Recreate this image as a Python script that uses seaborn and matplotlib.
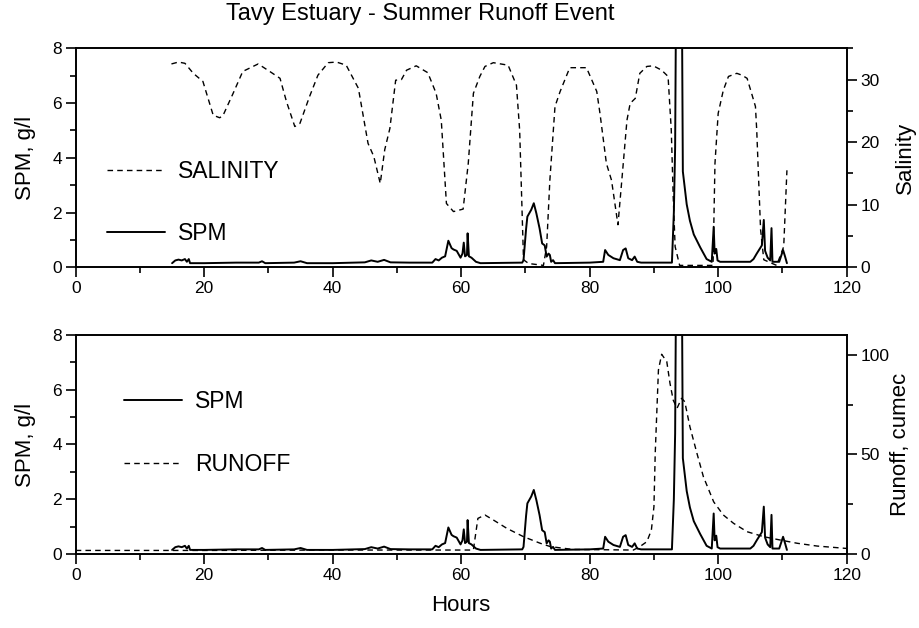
import matplotlib
matplotlib.use("Agg")
import matplotlib.pyplot as plt
from matplotlib.lines import Line2D
from matplotlib.ticker import MultipleLocator
import seaborn as sns
import numpy as np

# ---------------- data ----------------
spm_hours = [15.0, 15.5, 16.0, 16.5, 17.0, 17.3, 17.6, 17.8, 20.0, 25.0, 28.5, 29.0, 29.5,
             34.0, 35.0, 36.0, 40.0, 45.0, 46.0, 47.0, 48.0, 49.0, 52.0, 55.5, 56.0, 56.5,
             57.0, 57.5, 58.0, 58.5, 58.8, 59.3, 59.9, 60.2, 60.4, 60.6, 60.9, 61.0, 61.2,
             61.6, 62.3, 63.0, 69.5, 69.7, 70.1, 70.3, 70.9, 71.3, 71.7, 72.2, 72.6, 73.0,
             73.3, 73.6, 73.8, 74.0, 74.3, 74.6, 80.0, 82.1, 82.4, 82.9, 83.7, 84.7, 85.2,
             85.6, 86.0, 86.6, 87.0, 87.4, 88.0, 92.8, 93.1, 93.3, 93.5, 94.3, 94.5, 95.1,
             95.6, 96.2, 97.2, 98.2, 99.0, 99.3, 99.45, 99.7, 99.9, 100.3, 105.0, 105.5,
             106.0, 106.8, 107.1, 107.3, 107.7, 108.1, 108.3, 108.45, 109.5, 110.1, 110.4,
             110.7]
spm_values = [0.15, 0.25, 0.28, 0.25, 0.30, 0.20, 0.30, 0.15, 0.15, 0.17, 0.17, 0.22, 0.15,
              0.17, 0.22, 0.15, 0.15, 0.18, 0.25, 0.20, 0.27, 0.18, 0.17, 0.17, 0.30, 0.25,
              0.35, 0.40, 0.97, 0.70, 0.65, 0.60, 0.35, 0.50, 0.90, 0.40, 0.45, 1.24, 0.40,
              0.35, 0.20, 0.15, 0.17, 0.26, 1.40, 1.85, 2.10, 2.34, 1.97, 1.42, 0.87, 0.80,
              0.39, 0.50, 0.45, 0.20, 0.26, 0.15, 0.17, 0.20, 0.63, 0.45, 0.33, 0.26, 0.63,
              0.69, 0.33, 0.26, 0.39, 0.20, 0.17, 0.17, 2.00, 4.40, 12.0, 12.0, 3.50, 2.30,
              1.70, 1.20, 0.73, 0.30, 0.20, 1.48, 0.50, 0.67, 0.25, 0.20, 0.20, 0.30,
              0.50, 0.80, 1.73, 0.60, 0.35, 0.25, 1.43, 0.20, 0.20, 0.63, 0.40,
              0.15]

sal_hours = [14.9, 16.0, 17.0, 18.3, 19.8, 21.4, 22.4, 22.9, 24.5, 26.0, 28.4, 30.2, 31.8,
             32.8, 34.1, 34.9, 36.4, 37.7, 39.3, 40.6, 42.1, 44.0, 45.5, 46.4, 47.4, 48.1,
             48.9, 49.8, 50.7, 51.5, 53.0, 54.8, 56.1, 56.9, 57.7, 58.8, 60.3, 61.1, 61.9,
             62.9, 63.7, 65.0, 67.3, 68.6, 69.1, 69.7, 70.5, 72.8, 73.3, 73.8, 74.6, 75.4,
             76.9, 79.5, 81.1, 81.6, 82.6, 83.4, 84.4, 85.0, 85.8, 86.3, 87.1, 87.8, 88.9,
             89.9, 91.2, 92.2, 92.7, 93.0, 93.3, 94.0, 99.2, 99.5, 100.0, 100.8, 101.6,
             102.9, 103.7, 104.5, 105.2, 105.8, 106.0, 106.3, 106.6, 107.1, 109.1, 110.2,
             110.7]
sal_values = [32.5, 32.8, 32.6, 31.0, 29.7, 24.3, 23.9, 24.2, 27.8, 31.3, 32.5, 31.3, 30.2,
              26.5, 22.5, 23.0, 27.3, 30.7, 32.7, 32.8, 32.3, 28.6, 19.8, 17.7, 13.4, 18.8,
              22.2, 29.9, 30.0, 31.5, 32.2, 31.1, 27.8, 23.5, 10.2, 8.9, 9.3, 16.6, 27.8,
              30.5, 32.1, 32.7, 32.3, 29.1, 21.9, 1.2, 0.6, 0.3, 3.3, 13.9, 25.7, 28.1,
              31.9, 31.9, 28.1, 24.6, 16.6, 13.9, 6.8, 13.9, 23.5, 26.2, 27.0, 31.0, 32.1,
              32.2, 31.5, 30.5, 21.9, 11.3, 3.3, 0.3, 0.3, 16.6, 24.6, 28.3, 30.5,
              31.0, 30.7, 30.2, 27.8, 25.7, 21.9, 13.9, 6.0, 1.2, 0.3, 3.3,
              15.5]

run_hours = [0.0, 20.0, 40.0, 61.9, 62.1, 62.6, 63.7, 65.0, 67.1, 69.7, 72.3, 73.9, 77.4,
             86.8, 87.8, 88.9, 89.6, 90.0, 90.2, 90.5, 90.7, 91.2, 92.0, 92.5, 93.0, 93.6,
             94.3, 94.8, 95.6, 96.7, 97.7, 99.3, 100.8, 102.4, 104.5, 107.1, 109.7, 112.3,
             115.4, 120.0]
run_values = [1.8, 1.8, 2.0, 2.0, 6.7, 17.9, 19.6, 17.1, 12.9, 8.7, 5.4, 3.7, 2.3,
              2.0, 3.7, 6.2, 12.0, 23.8, 50.5, 75.6, 92.4, 100.3, 96.6, 85.7, 77.3, 73.2,
              78.2, 76.5, 63.9, 50.5, 38.8, 26.2, 19.6, 15.4, 11.2, 8.7, 7.0, 5.4,
              4.0, 2.8]

title = "Tavy Estuary - Summer Runoff Event"

# ---------------- style ----------------
sns.set_style("ticks")
plt.rcParams['font.family'] = ['Liberation Sans', 'DejaVu Sans']
plt.rcParams['axes.linewidth'] = 1.2
plt.rcParams['axes.edgecolor'] = 'black'
plt.rcParams['xtick.color'] = 'black'
plt.rcParams['ytick.color'] = 'black'
plt.rcParams['text.color'] = 'black'
plt.rcParams['axes.labelcolor'] = 'black'
plt.rcParams['xtick.direction'] = 'out'
plt.rcParams['ytick.direction'] = 'out'

TICK_FS = 12.5
LABEL_FS = 16
LEG_FS = 16.5
TITLE_FS = 17
DASH = (0, (4, 3))

fig = plt.figure(figsize=(9.2, 6.28), dpi=100)
ax1 = fig.add_axes([0.0823, 0.5744, 0.8380, 0.3487])
ax2 = fig.add_axes([0.0823, 0.1178, 0.8380, 0.3488])
ax1b = ax1.twinx()
ax2b = ax2.twinx()

# top panel
sns.lineplot(x=spm_hours, y=spm_values, ax=ax1, color='black', linewidth=1.4,
             estimator=None, sort=False)
sns.lineplot(x=sal_hours, y=sal_values, ax=ax1b, color='black', linewidth=1.0,
             linestyle=DASH, estimator=None, sort=False)
# bottom panel
sns.lineplot(x=spm_hours, y=spm_values, ax=ax2, color='black', linewidth=1.4,
             estimator=None, sort=False)
sns.lineplot(x=run_hours, y=run_values, ax=ax2b, color='black', linewidth=1.0,
             linestyle=DASH, estimator=None, sort=False)

for ax in (ax1, ax2):
    ax.set_xlim(0, 120)
    ax.set_ylim(0, 8)
    ax.xaxis.set_major_locator(MultipleLocator(20))
    ax.xaxis.set_minor_locator(MultipleLocator(10))
    ax.yaxis.set_major_locator(MultipleLocator(2))
    ax.yaxis.set_minor_locator(MultipleLocator(1))
    ax.tick_params(which='major', length=7, width=1.2, labelsize=TICK_FS, pad=3,
                   color='black', labelcolor='black')
    ax.tick_params(which='minor', length=4, width=1.2, color='black')
    ax.set_ylabel("SPM, g/l", fontsize=LABEL_FS)
    ax.yaxis.set_label_coords(-0.051, 0.5)
    ax.set_xlabel("")

ax1b.set_ylim(0, 35)
ax1b.yaxis.set_major_locator(MultipleLocator(10))
ax1b.yaxis.set_minor_locator(MultipleLocator(5))
ax1b.set_ylabel("Salinity", fontsize=LABEL_FS)
ax1b.yaxis.set_label_coords(1.063, 0.5)

ax2b.set_ylim(0, 110)
ax2b.yaxis.set_major_locator(MultipleLocator(50))
ax2b.yaxis.set_minor_locator(MultipleLocator(25))
ax2b.set_ylabel("Runoff, cumec", fontsize=LABEL_FS)
ax2b.yaxis.set_label_coords(1.056, 0.5)

for ax in (ax1b, ax2b):
    ax.tick_params(which='major', length=7, width=1.2, labelsize=TICK_FS, pad=3,
                   color='black', labelcolor='black')
    ax.tick_params(which='minor', length=4, width=1.2, color='black')
    for s in ax.spines.values():
        s.set_linewidth(1.2)
        s.set_color('black')

ax2.set_xlabel("Hours", fontsize=LABEL_FS)
ax2.xaxis.set_label_coords(0.5, -0.185)

# legends
solid = Line2D([], [], color='black', linewidth=1.4)
dashed = Line2D([], [], color='black', linewidth=1.0, linestyle=DASH)
leg1 = ax1b.legend([dashed, solid], ["SALINITY", "SPM"], loc='center left',
                   bbox_to_anchor=(0.041, 0.297), frameon=False, fontsize=LEG_FS,
                   handlelength=2.53, handletextpad=0.57, labelspacing=1.7,
                   borderpad=0, borderaxespad=0)
leg2 = ax2b.legend([solid, dashed], ["SPM", "RUNOFF"], loc='center left',
                   bbox_to_anchor=(0.063, 0.551), frameon=False, fontsize=LEG_FS,
                   handlelength=2.53, handletextpad=0.57, labelspacing=1.75,
                   borderpad=0, borderaxespad=0)

fig.text(0.457, 0.978, title, ha='center', va='center', fontsize=TITLE_FS)

fig.savefig("out.png", dpi=100, facecolor='white')
